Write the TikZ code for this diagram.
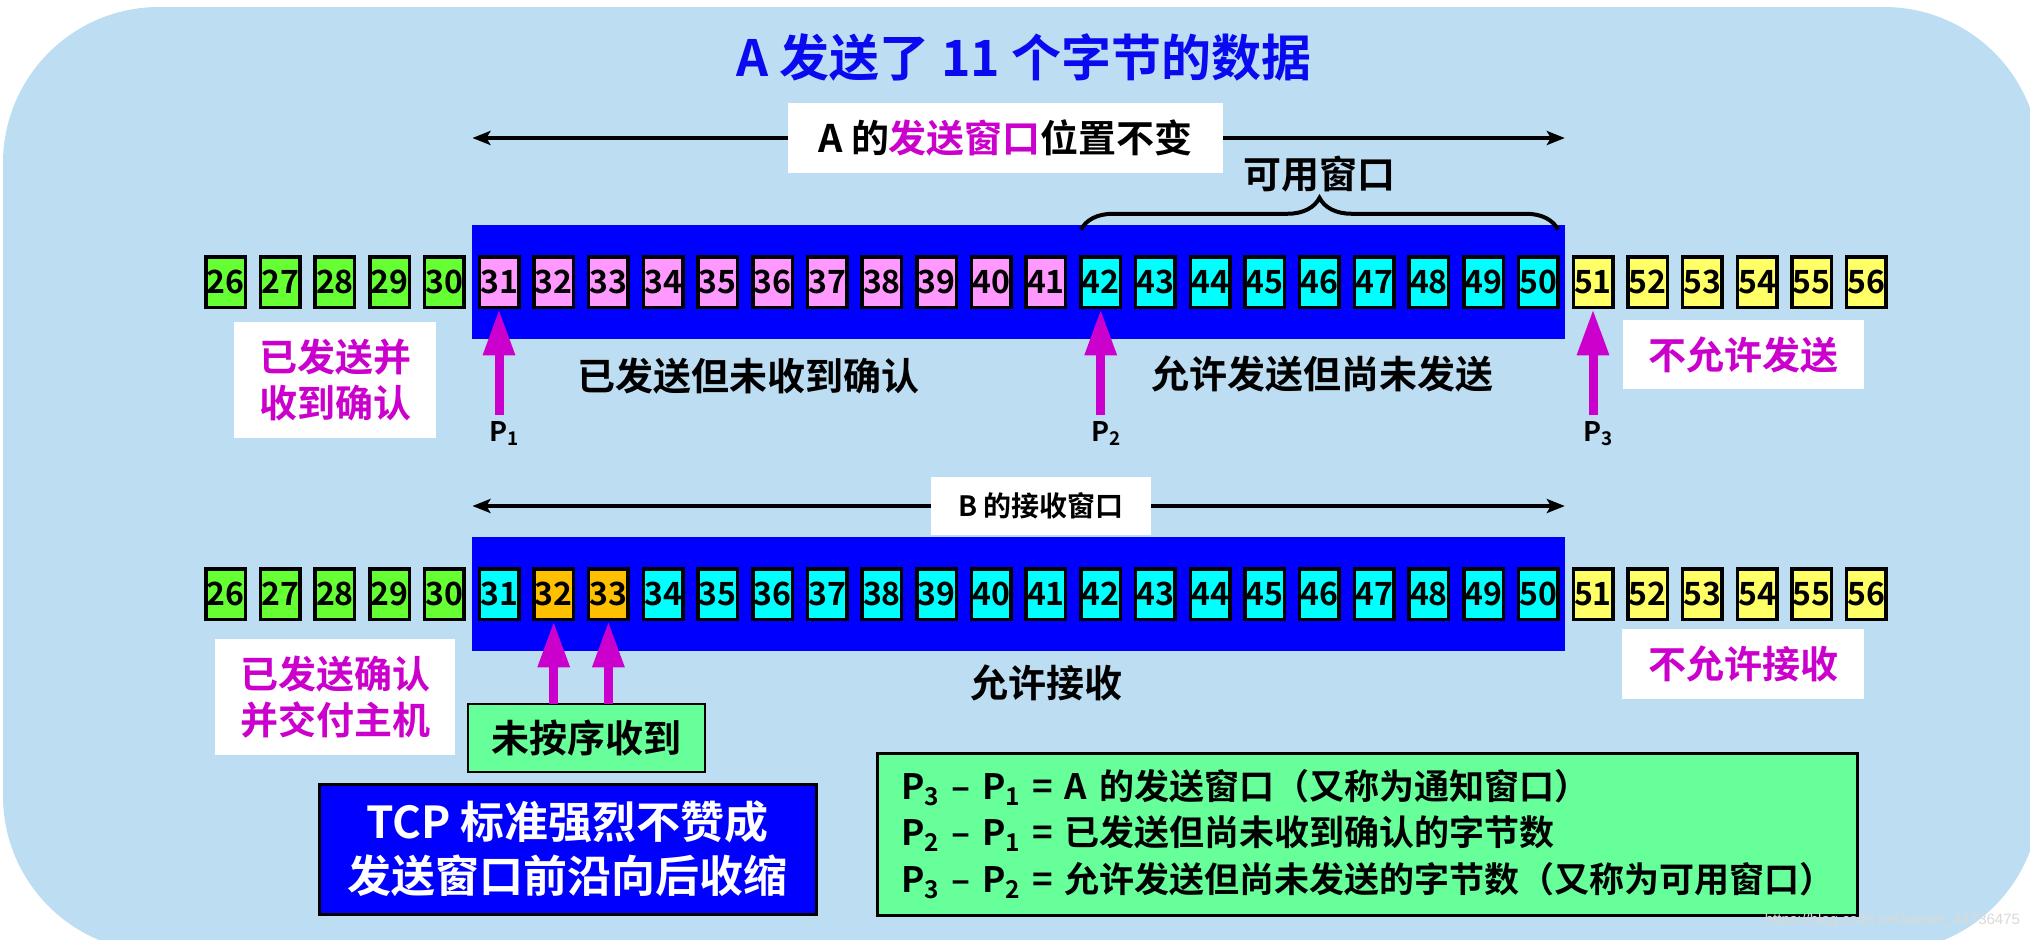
\documentclass[tikz,border=0pt]{standalone}
\usepackage{fontspec}
\setmainfont{Noto Sans CJK SC}[BoldFont={Noto Sans CJK SC Bold}]
\newfontfamily\urlfont{Liberation Sans}
\usepackage{tikz}
\usetikzlibrary{arrows.meta,fit,calc,positioning,backgrounds,decorations.pathreplacing}
\usepackage{xcolor}

\definecolor{panelblue}{HTML}{BDDEF2}
\definecolor{winblue}{HTML}{0000FF}
\definecolor{titleblue}{HTML}{0A0AF0}
\definecolor{donegreen}{HTML}{66FF33}
\definecolor{pinkcell}{HTML}{FF99FF}
\definecolor{cyancell}{HTML}{00FFFF}
\definecolor{orangecell}{HTML}{FFC000}
\definecolor{yellowcell}{HTML}{FFFF66}
\definecolor{mintgreen}{HTML}{66FF99}
\definecolor{pointmag}{HTML}{CC00CC}

\begin{document}
\begin{tikzpicture}[x=0.5pt,y=-0.5pt,
	  every node/.style={align=center,inner sep=0pt,outer sep=0pt,font=\bfseries},
	  every matrix/.style={ampersand replacement=\&,column sep={27.35pt,between origins},row sep={156pt,between origins}},
	  cell/.style={draw=black,line width=1.75pt,minimum width=19.75pt,minimum height=25.25pt,font=\bfseries\fontsize{16}{16}\selectfont},
	  done/.style={cell,fill=donegreen},
	  unacked/.style={cell,fill=pinkcell},
	  usable/.style={cell,fill=cyancell},
	  early/.style={cell,fill=orangecell},
	  blocked/.style={cell,fill=yellowcell},
	  band/.style={fill=winblue,inner xsep=3.4pt,inner ysep=16pt},
	  whitebox/.style={fill=white},
	  hint/.style={whitebox,text=pointmag,font=\bfseries\fontsize{19}{23}\selectfont},
	  note/.style={font=\bfseries\fontsize{19}{23}\selectfont},
	  pmark/.style={font=\bfseries\fontsize{13.5}{13.5}\selectfont},
	  span/.style={-{Stealth[length=9pt,width=7pt,inset=2pt]},line width=2pt},
	  pointer/.style={-{Triangle[length=23pt,width=15pt]},line width=4.5pt,draw=pointmag,shorten >=1pt},
	  brace/.style={decorate,decoration={brace,amplitude=16pt},line width=2pt}]

	  \useasboundingbox (0,0) rectangle (2030,939);

	  % Title
	  \node[text=titleblue,font=\bfseries\fontsize{25}{25}\selectfont] (title) at (1024,57) {A 发送了 11 个字节的数据};

	  % Byte cells of sender A (top) and receiver B (bottom)
	  \matrix (bytes) at (1046,438) {
	  \node[done] (snd26) {26}; \& \node[done] (snd27) {27}; \& \node[done] (snd28) {28}; \& \node[done] (snd29) {29}; \& \node[done] (snd30) {30}; \&
	  \node[unacked] (snd31) {31}; \& \node[unacked] (snd32) {32}; \& \node[unacked] (snd33) {33}; \& \node[unacked] (snd34) {34}; \& \node[unacked] (snd35) {35}; \& \node[unacked] (snd36) {36}; \&
	  \node[unacked] (snd37) {37}; \& \node[unacked] (snd38) {38}; \& \node[unacked] (snd39) {39}; \& \node[unacked] (snd40) {40}; \& \node[unacked] (snd41) {41}; \&
	  \node[usable] (snd42) {42}; \& \node[usable] (snd43) {43}; \& \node[usable] (snd44) {44}; \& \node[usable] (snd45) {45}; \& \node[usable] (snd46) {46}; \&
	  \node[usable] (snd47) {47}; \& \node[usable] (snd48) {48}; \& \node[usable] (snd49) {49}; \& \node[usable] (snd50) {50}; \&
	  \node[blocked] (snd51) {51}; \& \node[blocked] (snd52) {52}; \& \node[blocked] (snd53) {53}; \& \node[blocked] (snd54) {54}; \& \node[blocked] (snd55) {55}; \& \node[blocked] (snd56) {56}; \\
	  \node[done] (rcv26) {26}; \& \node[done] (rcv27) {27}; \& \node[done] (rcv28) {28}; \& \node[done] (rcv29) {29}; \& \node[done] (rcv30) {30}; \&
	  \node[usable] (rcv31) {31}; \& \node[early] (rcv32) {32}; \& \node[early] (rcv33) {33}; \& \node[usable] (rcv34) {34}; \& \node[usable] (rcv35) {35}; \& \node[usable] (rcv36) {36}; \&
	  \node[usable] (rcv37) {37}; \& \node[usable] (rcv38) {38}; \& \node[usable] (rcv39) {39}; \& \node[usable] (rcv40) {40}; \& \node[usable] (rcv41) {41}; \&
	  \node[usable] (rcv42) {42}; \& \node[usable] (rcv43) {43}; \& \node[usable] (rcv44) {44}; \& \node[usable] (rcv45) {45}; \& \node[usable] (rcv46) {46}; \&
	  \node[usable] (rcv47) {47}; \& \node[usable] (rcv48) {48}; \& \node[usable] (rcv49) {49}; \& \node[usable] (rcv50) {50}; \&
	  \node[blocked] (rcv51) {51}; \& \node[blocked] (rcv52) {52}; \& \node[blocked] (rcv53) {53}; \& \node[blocked] (rcv54) {54}; \& \node[blocked] (rcv55) {55}; \& \node[blocked] (rcv56) {56}; \\
	  };

	  % Panel and the two windows behind the cells
	  \begin{scope}[on background layer]
	    \clip (0,0) rectangle (2030,939);
	    \fill[panelblue,rounded corners=78pt] (3,7) rectangle (2040,952);
	    \node[band,fit=(snd31)(snd50)] (sndwin) {};
	    \node[band,fit=(rcv31)(rcv50)] (rcvwin) {};
	  \end{scope}

	  % Window spans
	  \node[whitebox,minimum width=217.5pt,minimum height=35pt,font=\bfseries\fontsize{19}{19}\selectfont] (sndspan) at (1005.5,138) {A 的\textcolor{pointmag}{发送窗口}位置不变};
	  \draw[span] (sndspan.west) -- (sndwin.west |- sndspan.west);
	  \draw[span] (sndspan.east) -- (sndwin.east |- sndspan.east);
	  \node[whitebox,minimum width=110pt,minimum height=29pt,font=\bfseries\fontsize{14}{14}\selectfont] (rcvspan) at (1041,506) {B 的接收窗口};
	  \draw[span] (rcvspan.west) -- (rcvwin.west |- rcvspan.west);
	  \draw[span] (rcvspan.east) -- (rcvwin.east |- rcvspan.east);

	  \draw[brace] ([yshift=-2.5pt]snd42.west |- sndwin.north) -- ([yshift=-2.5pt]snd50.east |- sndwin.north)
	    node[note,midway,above=19pt] (usablewin) {可用窗口};

	  % Pointers P1, P2, P3
	  \node[pmark,below=57pt of snd31,xshift=3pt] (p1) {P\textsubscript{1}};
	  \node[pmark,below=57pt of snd42,xshift=3pt] (p2) {P\textsubscript{2}};
	  \node[pmark,below=57pt of snd51,xshift=3pt] (p3) {P\textsubscript{3}};
	  \draw[pointer,shorten <=3pt] (snd31.south |- p1.north) -- (snd31.south);
	  \draw[pointer,shorten <=3pt] (snd42.south |- p2.north) -- (snd42.south);
	  \draw[pointer,shorten <=3pt] (snd51.south |- p3.north) -- (snd51.south);

	  % Sender labels
	  \node[hint,minimum width=101pt,minimum height=58pt] (sndacked) at (335,380) {已发送并\\收到确认};
	  \node[note] (sndpending) at (748,376) {已发送但未收到确认};
	  \node[note] (sndallowed) at (1322,374) {允许发送但尚未发送};
	  \node[hint,minimum width=120.5pt,minimum height=34.5pt] (sndblocked) at (1743.5,354.5) {不允许发送};

	  % Receiver labels
	  \node[hint,minimum width=120pt,minimum height=58pt] (rcvacked) at (335,697) {已发送确认\\并交付主机};
	  \node[note] (rcvallowed) at (1046,683) {允许接收};
	  \node[hint,minimum width=121pt,minimum height=35pt] (rcvblocked) at (1743,664) {不允许接收};
	  \node[note,draw=black,line width=1pt,fill=mintgreen,minimum width=118.5pt,minimum height=34pt] (ooo) at (586,738) {未按序收到};
	  \draw[pointer] (rcv32.south |- ooo.north) -- (rcv32.south);
	  \draw[pointer] (rcv33.south |- ooo.north) -- (rcv33.south);

	  % Notes at the bottom
	  \node[draw=black,line width=1.5pt,fill=winblue,text=white,minimum width=248.5pt,minimum height=65pt,
	    font=\bfseries\fontsize{22}{27}\selectfont] (tcpnote) at (567.75,849) {TCP 标准强烈不赞成\\发送窗口前沿向后收缩};
	  \node[draw=black,line width=1.5pt,fill=mintgreen,minimum width=490pt,minimum height=81pt,text width=466pt,align=left,
	    font=\bfseries\fontsize{17.5}{23.25}\selectfont] (formulas) at (1367,834)
	    {P\textsubscript{3} – P\textsubscript{1} = A 的发送窗口（又称为通知窗口）\\
	     P\textsubscript{2} – P\textsubscript{1} = 已发送但尚未收到确认的字节数\\
	     P\textsubscript{3} – P\textsubscript{2} = 允许发送但尚未发送的字节数（又称为可用窗口）};

	  \node[anchor=east,font=\urlfont\fontsize{7.5}{7.5}\selectfont,text=white!70!gray] (credit) at (2020,921) {https://blog.csdn.net/weixin\_44736475};

\end{tikzpicture}
\end{document}
